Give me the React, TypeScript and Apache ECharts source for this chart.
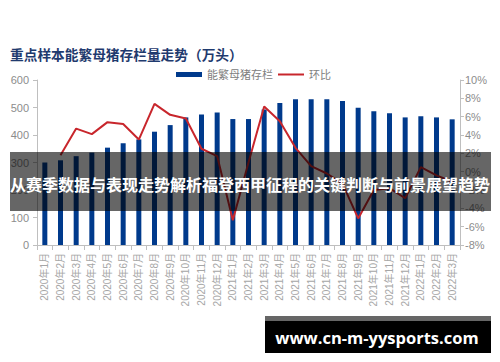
import React, { useEffect, useRef } from "react";
import * as echarts from "echarts";

const months = [
  "2020年1月", "2020年2月", "2020年3月", "2020年4月", "2020年5月", "2020年6月",
  "2020年7月", "2020年8月", "2020年9月", "2020年10月", "2020年11月", "2020年12月",
  "2021年1月", "2021年2月", "2021年3月", "2021年4月", "2021年5月", "2021年6月",
  "2021年7月", "2021年8月", "2021年9月", "2021年10月", "2021年11月", "2021年12月",
  "2022年1月", "2022年2月", "2022年3月",
];

const stock = [
  300, 308, 323, 336, 354, 370, 384, 412, 436, 464, 475, 482,
  458, 458, 493, 516, 530, 530, 530, 524, 499, 486, 479, 464,
  468, 464, 457,
];

const mom = [
  null, 1.8, 4.7, 4.1, 5.4, 5.2, 3.5, 7.4, 6.2, 5.8, 2.5, 1.7,
  -5.3, 1.0, 7.1, 5.5, 2.6, 0.6, -0.2, -1.3, -5.1, -2.0, -1.8, -2.9,
  0.5, -0.4, -1.1,
];

const leftTicks = { min: 0, max: 600, interval: 100 };
const rightTicks = { min: -8, max: 10, interval: 2 };

const titleText = "重点样本能繁母猪存栏量走势（万头）";
const barName = "能繁母猪存栏";
const lineName = "环比";
const bannerText = "从赛季数据与表现走势解析福登西甲征程的关键判断与前景展望趋势";
const siteText = "www.cn-m-yysports.com";

export default function App() {
  const ref = useRef<HTMLDivElement>(null);

  useEffect(() => {
    if (!ref.current) return;
    const chart = echarts.init(ref.current, null, { renderer: "svg" });
    const axisColor = "#bfbfbf";
    const labelColor = "#8c8c8c";
    const fontFamily = "'Liberation Sans', 'Noto Sans CJK SC', sans-serif";
    chart.setOption({
      animation: false,
      backgroundColor: "#ffffff",
      grid: { left: 37, right: 40, top: 80, bottom: 117, containLabel: false },
      legend: {
        left: 176,
        top: 69,
        padding: 0,
        itemWidth: 26,
        itemHeight: 5,
        itemGap: 4,
        textStyle: { color: "#808080", fontSize: 11, fontFamily },
        data: [
          { name: barName, icon: "rect" },
          { name: lineName, itemStyle: { opacity: 0 } },
        ],
      },
      xAxis: {
        type: "category",
        data: months,
        boundaryGap: true,
        axisLine: { lineStyle: { color: axisColor } },
        axisTick: { show: true, alignWithLabel: false, length: 5, lineStyle: { color: axisColor } },
        axisLabel: {
          rotate: 90,
          interval: 0,
          color: "#a6a6a6",
          fontSize: 10,
          fontFamily,
          margin: 8,
        },
      },
      yAxis: [
        {
          type: "value",
          ...leftTicks,
          position: "left",
          axisLine: { show: true, lineStyle: { color: axisColor } },
          axisTick: { show: true, length: 4, lineStyle: { color: axisColor } },
          splitLine: { show: false },
          axisLabel: { color: labelColor, fontSize: 11, fontFamily, margin: 8 },
        },
        {
          type: "value",
          ...rightTicks,
          position: "right",
          axisLine: { show: true, lineStyle: { color: axisColor } },
          axisTick: { show: true, length: 4, lineStyle: { color: axisColor } },
          splitLine: { show: false },
          axisLabel: { color: labelColor, fontSize: 11, fontFamily, margin: 5, formatter: "{value}%" },
        },
      ],
      series: [
        {
          name: barName,
          type: "bar",
          data: stock,
          barWidth: 5,
          itemStyle: { color: "#003a8c" },
          yAxisIndex: 0,
          z: 2,
        },
        {
          name: lineName,
          type: "line",
          data: mom,
          yAxisIndex: 1,
          symbol: "none",
          showSymbol: false,
          lineStyle: { color: "#c8262c", width: 2 },
          itemStyle: { color: "#c8262c" },
          connectNulls: false,
          z: 3,
        },
      ],
      graphic: [
        {
          type: "text",
          left: 10,
          top: 47,
          z: 100,
          style: {
            text: titleText,
            fill: "#1f3a6e",
            fontSize: 13.7,
            fontWeight: "bold",
            fontFamily: "'Noto Sans CJK SC', sans-serif",
          },
        },
        {
          type: "rect",
          z: 100,
          shape: { x: 10, y: 152, width: 481, height: 59 },
          style: { fill: "rgba(0,0,0,0.6)" },
        },
        {
          type: "text",
          z: 101,
          x: 250,
          y: 184,
          style: {
            text: bannerText,
            fill: "#ffffff",
            fontSize: 16,
            fontWeight: "bold",
            fontFamily: "'Noto Sans CJK SC', sans-serif",
            align: "center",
            verticalAlign: "middle",
          },
        },
        {
          type: "rect",
          z: 100,
          shape: { x: 265, y: 316, width: 226, height: 5 },
          style: { fill: "#666666" },
        },
        {
          type: "rect",
          z: 100,
          shape: { x: 265, y: 321, width: 226, height: 32 },
          style: { fill: "#000000" },
        },
        {
          type: "text",
          z: 101,
          x: 377,
          y: 337,
          style: {
            text: siteText,
            fill: "#ffffff",
            fontSize: 16.5,
            fontWeight: "bold",
            fontFamily: "'Open Sans', sans-serif",
            align: "center",
            verticalAlign: "middle",
          },
        },
      ],
    });
    return () => chart.dispose();
  }, []);

  return (
    <div
      ref={ref}
      style={{ position: "absolute", left: 0, top: 0, width: 500, height: 362 }}
    />
  );
}
